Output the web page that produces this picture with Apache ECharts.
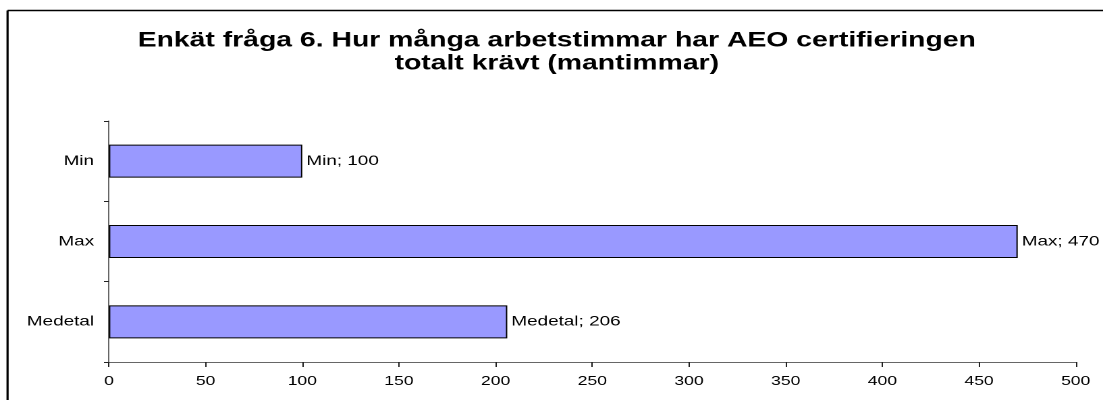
<!DOCTYPE html>
<html>
<head>
<meta charset="utf-8">
<script src="https://cdn.jsdelivr.net/npm/echarts@6/dist/echarts.min.js"></script>
<style>
  html, body { margin: 0; padding: 0; background: #fff; overflow: hidden; }
  /* the source picture is a horizontally stretched chart, so draw narrower and stretch */
  #chart { width: 817px; height: 400px; transform: scaleX(1.35006); transform-origin: 0 0; }
</style>
</head>
<body>
<div id="chart"></div>
<script>
// Data
const categories = ['Medetal', 'Max', 'Min']
const values = [206, 470, 100]
const titleText = 'Enkät fråga 6. Hur många arbetstimmar har AEO certifieringen\ntotalt krävt (mantimmar)'

const FONT = 'Liberation Sans, Arial, sans-serif'

const chart = echarts.init(document.getElementById('chart'), null, { renderer: 'canvas', devicePixelRatio: 2 })

const option = {
  animation: false,
  backgroundColor: '#ffffff',
  textStyle: { fontFamily: FONT },
  title: {
    text: titleText,
    left: 407.4,
    top: 24,
    textAlign: 'center',
    textStyle: {
      fontFamily: FONT,
      fontSize: 21,
      fontWeight: 'bold',
      color: '#000',
      lineHeight: 23
    }
  },
  // frame of the chart area (only left and top edges are visible)
  graphic: [
    {
      type: 'line',
      shape: { x1: 5.6, y1: 10.5, x2: 5.6, y2: 420 },
      style: { stroke: '#000', lineWidth: 1.6 },
      silent: true
    },
    {
      type: 'line',
      shape: { x1: 5.6, y1: 10.5, x2: 1000, y2: 10.5 },
      style: { stroke: '#000', lineWidth: 1.6 },
      silent: true
    }
  ],
  grid: {
    left: 80.7,
    right: 20.2,
    top: 121,
    bottom: 38,
    containLabel: false
  },
  xAxis: {
    type: 'value',
    min: 0,
    max: 500,
    interval: 50,
    axisLine: { show: true, lineStyle: { color: '#666', width: 1 } },
    axisTick: { show: true, length: 5, inside: false, lineStyle: { color: '#222' } },
    axisLabel: {
      color: '#000',
      fontSize: 13,
      margin: 13,
      fontFamily: FONT
    },
    splitLine: { show: false }
  },
  yAxis: {
    type: 'category',
    data: categories,
    axisLine: { show: true, lineStyle: { color: '#666', width: 1 } },
    axisTick: { show: true, length: 3.7, lineStyle: { color: '#222' } },
    axisLabel: {
      color: '#000',
      fontSize: 14,
      margin: 11,
      fontFamily: FONT
    },
    splitLine: { show: false }
  },
  series: [{
    type: 'bar',
    data: values,
    barWidth: 33,
    itemStyle: {
      color: '#9999ff',
      borderColor: '#000',
      borderWidth: 1
    },
    label: {
      show: true,
      position: 'right',
      distance: 3,
      color: '#000',
      fontSize: 14,
      fontFamily: FONT,
      formatter: (p) => `${p.name}; ${p.value}`
    }
  }]
}

chart.setOption(option)
</script>
</body>
</html>
